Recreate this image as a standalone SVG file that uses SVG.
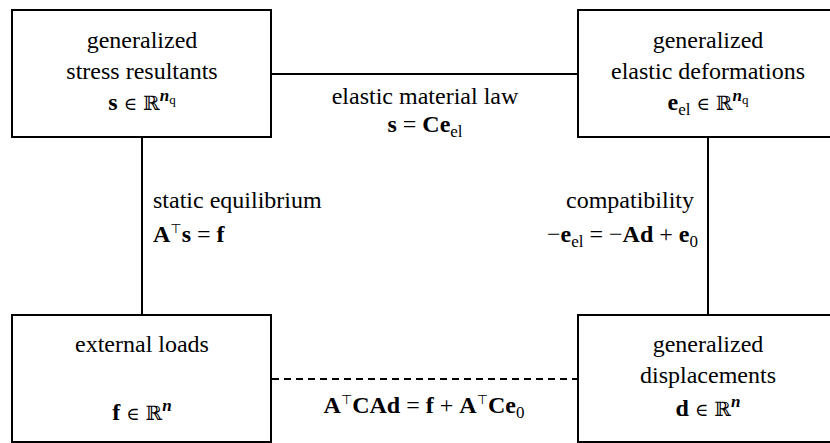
<svg xmlns="http://www.w3.org/2000/svg" width="830" height="443" viewBox="0 0 830 443">
<rect width="830" height="443" fill="#fff"/>
<g id="connectors" stroke="#000" stroke-width="2" fill="none">
<line x1="272" y1="74" x2="578" y2="74"/>
<line x1="142" y1="138" x2="142" y2="314"/>
<line x1="708" y1="138" x2="708" y2="314"/>
<line x1="272" y1="379" x2="578" y2="379" stroke-dasharray="7 5"/>
</g>
<g id="labels" font-family="Liberation Serif" font-size="24" fill="#000">
<text font-family="Liberation Serif" text-anchor="middle" x="425" y="104">elastic material law</text>
<text font-family="Liberation Serif" text-anchor="middle" x="425" y="132"><tspan font-weight="bold">s</tspan> = <tspan font-weight="bold">Ce</tspan><tspan font-size="17" dy="5">el</tspan></text>
<text font-family="Liberation Serif" x="153" y="208">static equilibrium</text>
<text font-family="Liberation Serif" x="153" y="242"><tspan font-weight="bold">A</tspan><tspan font-family="DejaVu Sans" font-size="13" dy="-9">⊤</tspan><tspan font-weight="bold" dy="9">s</tspan> = <tspan font-weight="bold">f</tspan></text>
<text font-family="Liberation Serif" text-anchor="end" x="694" y="208">compatibility</text>
<text font-family="Liberation Serif" text-anchor="end" x="698" y="242">−<tspan font-weight="bold">e</tspan><tspan font-size="17" dy="5">el</tspan><tspan dy="-5"> = −</tspan><tspan font-weight="bold">Ad</tspan> + <tspan font-weight="bold">e</tspan><tspan font-size="17" dy="5">0</tspan></text>
<text font-family="Liberation Serif" text-anchor="middle" x="424" y="413"><tspan font-weight="bold">A</tspan><tspan font-family="DejaVu Sans" font-size="13" dy="-9">⊤</tspan><tspan font-weight="bold" dy="9">CAd</tspan> = <tspan font-weight="bold">f</tspan> + <tspan font-weight="bold">A</tspan><tspan font-family="DejaVu Sans" font-size="13" dy="-9">⊤</tspan><tspan font-weight="bold" dy="9">Ce</tspan><tspan font-size="17" dy="5">0</tspan></text>
</g>
<g id="stress" font-family="Liberation Serif" font-size="24" fill="#000" text-anchor="middle">
<rect x="12" y="10" width="259" height="127" fill="#fff" stroke="#000" stroke-width="2"/>
<text font-family="Liberation Serif" x="142" y="48">generalized</text>
<text font-family="Liberation Serif" x="142" y="79">stress resultants</text>
<text font-family="Liberation Serif" x="142" y="110"><tspan font-weight="bold">s</tspan> <tspan font-family="DejaVu Serif" font-size="18">∈</tspan> <tspan font-family="DejaVu Serif" font-size="20">ℝ</tspan><tspan font-weight="bold" font-style="italic" font-size="17" dy="-9">n</tspan><tspan font-size="13" dy="3">q</tspan></text>
</g>
<g id="deformations" font-family="Liberation Serif" font-size="24" fill="#000" text-anchor="middle">
<rect x="578" y="10" width="260" height="127" fill="#fff" stroke="#000" stroke-width="2"/>
<text font-family="Liberation Serif" x="708" y="48">generalized</text>
<text font-family="Liberation Serif" x="708" y="79">elastic deformations</text>
<text font-family="Liberation Serif" x="708" y="110"><tspan font-weight="bold">e</tspan><tspan font-size="17" dy="5">el</tspan><tspan dy="-5"> </tspan><tspan font-family="DejaVu Serif" font-size="18">∈</tspan> <tspan font-family="DejaVu Serif" font-size="20">ℝ</tspan><tspan font-weight="bold" font-style="italic" font-size="17" dy="-9">n</tspan><tspan font-size="13" dy="3">q</tspan></text>
</g>
<g id="loads" font-family="Liberation Serif" font-size="24" fill="#000" text-anchor="middle">
<rect x="12" y="315" width="259" height="127" fill="#fff" stroke="#000" stroke-width="2"/>
<text font-family="Liberation Serif" x="142" y="352">external loads</text>
<text font-family="Liberation Serif" x="142" y="420"><tspan font-weight="bold">f</tspan> <tspan font-family="DejaVu Serif" font-size="18">∈</tspan> <tspan font-family="DejaVu Serif" font-size="20">ℝ</tspan><tspan font-weight="bold" font-style="italic" font-size="17" dy="-9">n</tspan></text>
</g>
<g id="displacements" font-family="Liberation Serif" font-size="24" fill="#000" text-anchor="middle">
<rect x="578" y="315" width="260" height="127" fill="#fff" stroke="#000" stroke-width="2"/>
<text font-family="Liberation Serif" x="708" y="352">generalized</text>
<text font-family="Liberation Serif" x="708" y="383">displacements</text>
<text font-family="Liberation Serif" x="708" y="416"><tspan font-weight="bold">d</tspan> <tspan font-family="DejaVu Serif" font-size="18">∈</tspan> <tspan font-family="DejaVu Serif" font-size="20">ℝ</tspan><tspan font-weight="bold" font-style="italic" font-size="17" dy="-9">n</tspan></text>
</g>
</svg>
